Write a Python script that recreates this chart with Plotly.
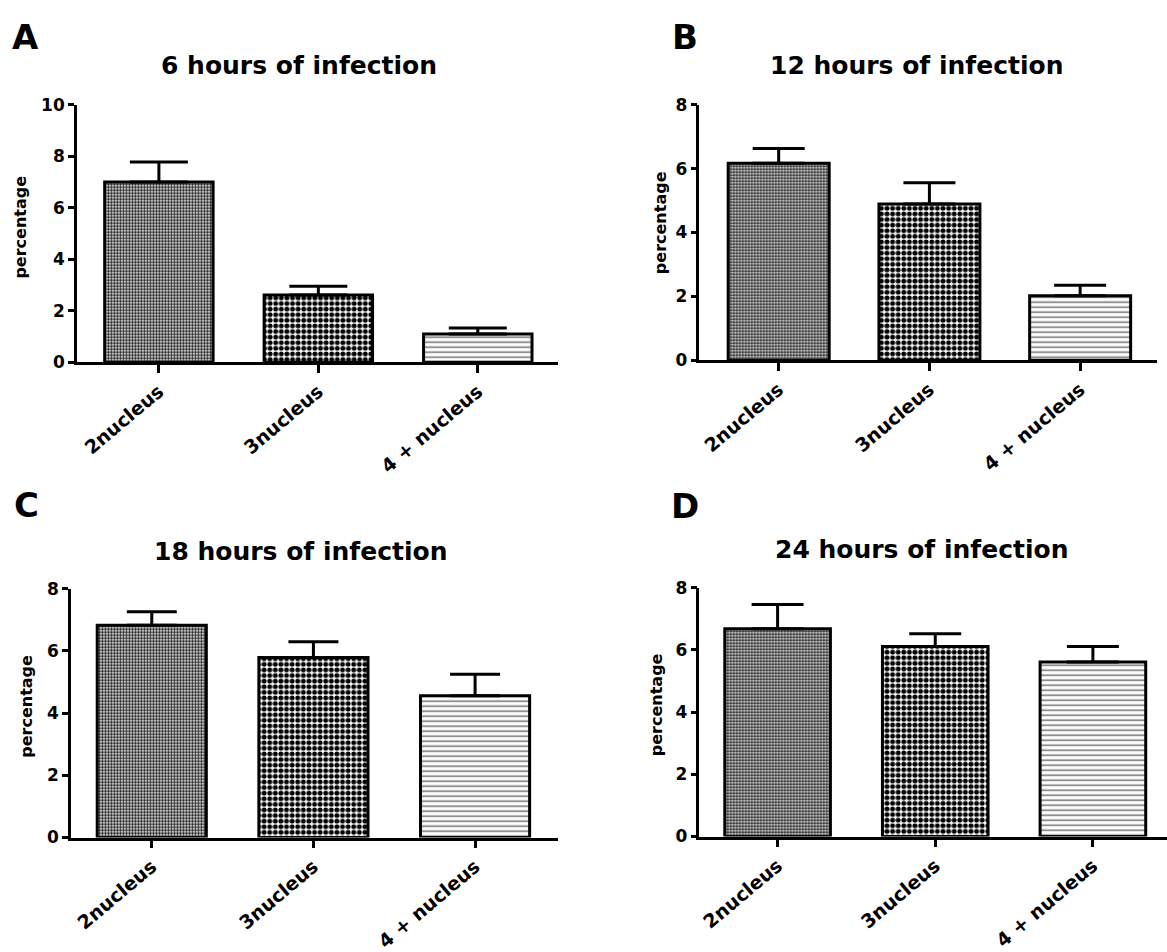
import plotly.graph_objects as go

# ---------------- data ----------------
categories = ["2nucleus", "3nucleus", "4 + nucleus"]
titles = ["6 hours of infection", "12 hours of infection",
          "18 hours of infection", "24 hours of infection"]
panel_letters = ["A", "B", "C", "D"]

mean_6h = [7.00, 2.61, 1.10]
sem_6h = [0.77, 0.34, 0.23]
mean_12h = [6.17, 4.89, 2.02]
sem_12h = [0.46, 0.67, 0.33]
mean_18h = [6.82, 5.79, 4.56]
sem_18h = [0.44, 0.50, 0.69]
mean_24h = [6.68, 6.11, 5.61]
sem_24h = [0.78, 0.41, 0.50]

y_max = [10, 8, 8, 8]

means = [mean_6h, mean_12h, mean_18h, mean_24h]
sems = [sem_6h, sem_12h, sem_18h, sem_24h]

# ---------------- layout geometry (pixels) ----------------
W, H = 1167, 952
panels = [
    dict(x0=76, x1=557, ybot=361, ytop=97, xr=(-0.514, 2.50), bw=0.68, cap=29,
         title=(298, 57), letter=(25, 28), ytitle=(20, 222)),
    dict(x0=699, x1=1157, ybot=359, ytop=97, xr=(-0.526, 2.51), bw=0.67, cap=26,
         title=(916, 57), letter=(685, 28), ytitle=(660, 218)),
    dict(x0=70, x1=557, ybot=848, ytop=593, xr=(-0.50, 2.51), bw=0.675, cap=25,
         title=(300, 555), letter=(26, 507), ytitle=(26, 713)),
    dict(x0=699, x1=1167, ybot=847, ytop=592, xr=(-0.496, 2.47), bw=0.67, cap=26,
         title=(921, 553), letter=(685, 508), ytitle=(656, 712)),
]

FONT = "DejaVu Sans, Liberation Sans, Arial, sans-serif"


def px(x):
    return x / W


def py(y):
    return 1 - y / H


pattern = dict(
    shape=[".", ".", "-"],
    size=[3.0, 5.6, 5],
    solidity=[0.55, 0.6, 0.3],
    fgcolor=["#111111", "#000000", "#6e6e6e"],
    bgcolor=["#ffffff", "#ffffff", "#ffffff"],
    fillmode="replace",
)

fig = go.Figure()
annotations = []
layout_axes = {}

for i, p in enumerate(panels):
    n = "" if i == 0 else str(i + 1)
    fig.add_trace(go.Bar(
        x=categories,
        y=means[i],
        xaxis="x" + n,
        yaxis="y" + n,
        width=p["bw"],
        marker=dict(color="white", line=dict(color="black", width=3),
                    pattern=pattern),
        error_y=dict(type="data", array=sems[i], arrayminus=[0, 0, 0],
                     symmetric=False, color="black", thickness=3,
                     width=p["cap"]),
        showlegend=False,
        hoverinfo="x+y",
    ))
    layout_axes["xaxis" + n] = dict(
        domain=[px(p["x0"]), min(1.0, px(p["x1"]))],
        anchor="y" + n,
        type="category",
        categoryorder="array",
        categoryarray=categories,
        range=list(p["xr"]),
        showline=True, linecolor="black", linewidth=2.5,
        ticks="outside", ticklen=8, tickwidth=2.5, tickcolor="black",
        tickangle=-40,
        tickfont=dict(family=FONT, size=19, color="black", weight="bold"),
        showgrid=False, zeroline=False, fixedrange=True,
    )
    layout_axes["yaxis" + n] = dict(
        domain=[py(p["ybot"]), py(p["ytop"])],
        anchor="x" + n,
        range=[0, y_max[i]],
        tickmode="array",
        tickvals=list(range(0, y_max[i] + 1, 2)),
        showline=True, linecolor="black", linewidth=2.5,
        ticks="outside", ticklen=6, tickwidth=2.5, tickcolor="black",
        tickfont=dict(family=FONT, size=17, color="black", weight="bold"),
        showgrid=False, zeroline=False, fixedrange=True,
    )
    annotations.append(dict(
        x=px(p["title"][0]), y=py(p["title"][1]), xref="paper", yref="paper",
        text=titles[i], showarrow=False, xanchor="center", yanchor="middle",
        font=dict(family=FONT, size=25, color="black", weight="bold"),
    ))
    annotations.append(dict(
        x=px(p["letter"][0]), y=py(p["letter"][1]), xref="paper", yref="paper",
        text=panel_letters[i], showarrow=False, xanchor="center", yanchor="middle",
        font=dict(family=FONT, size=34, color="black", weight="bold"),
    ))
    annotations.append(dict(
        x=px(p["ytitle"][0]), y=py(p["ytitle"][1]), xref="paper", yref="paper",
        text="percentage", showarrow=False, xanchor="center", yanchor="middle",
        textangle=-90,
        font=dict(family=FONT, size=16, color="black", weight="bold"),
    ))

fig.update_layout(
    width=W, height=H,
    margin=dict(l=0, r=0, t=0, b=0),
    paper_bgcolor="white", plot_bgcolor="white",
    annotations=annotations,
    bargap=0.3,
    **layout_axes,
)

fig.write_html("out.html")
